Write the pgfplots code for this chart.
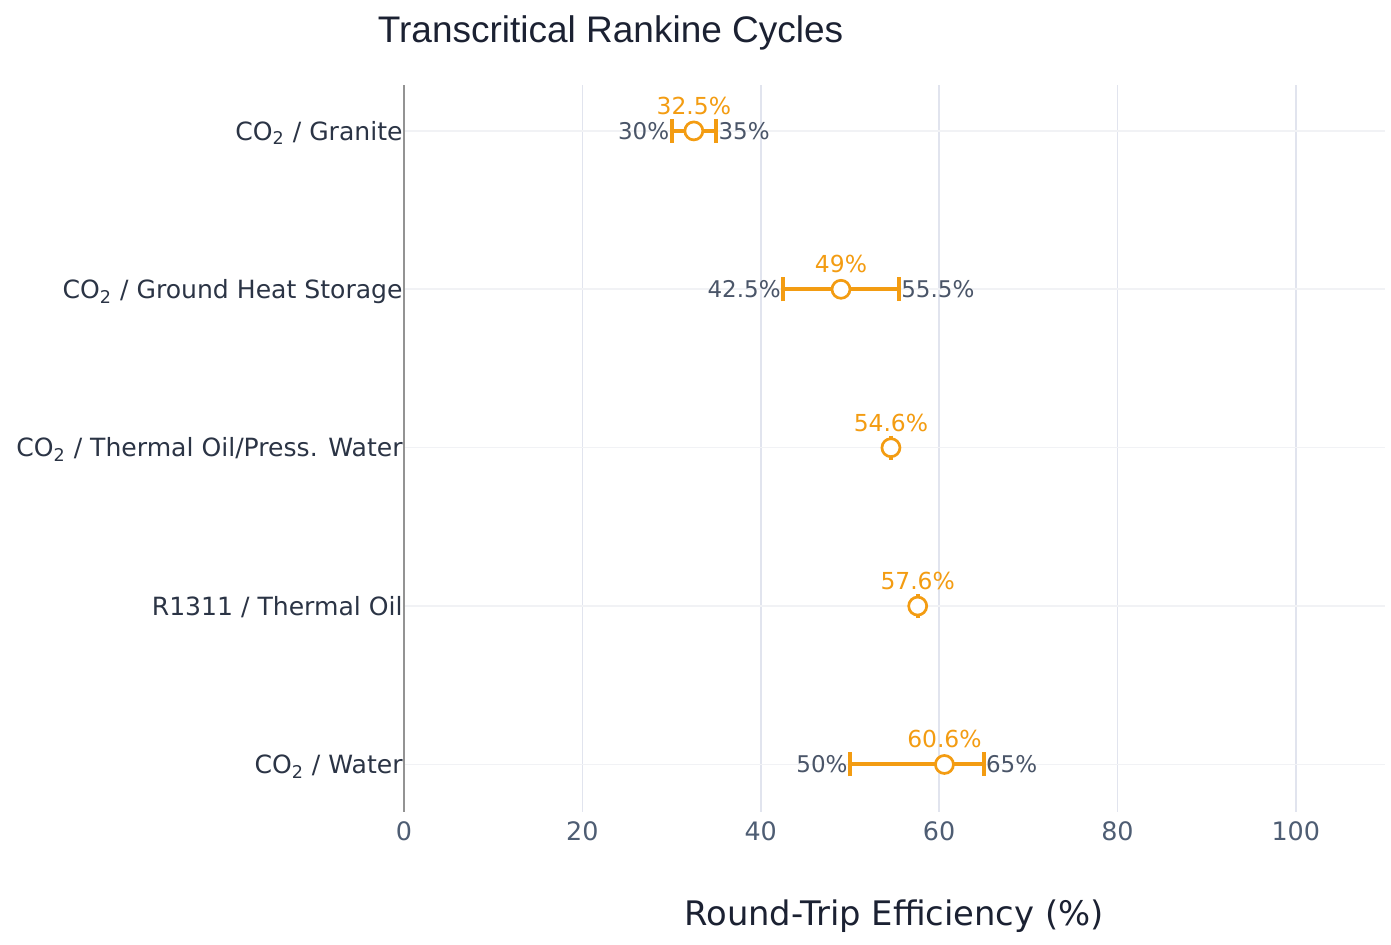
\documentclass[border=0pt]{standalone}
\usepackage{pgfplots}
\pgfplotsset{compat=1.18}
\usepackage{fontspec}
\setmainfont{DejaVu Sans}
\newfontfamily\titlefont{Liberation Sans}
\definecolor{orng}{HTML}{F39C12}
\definecolor{titlec}{HTML}{1B2132}
\definecolor{catc}{HTML}{2B3445}
\definecolor{tickc}{HTML}{4E5D73}
\definecolor{lowc}{HTML}{4A5568}
\definecolor{vgrid}{HTML}{E1E4EE}
\definecolor{hgrid}{HTML}{F1F2F5}
\begin{document}
\begin{tikzpicture}
\useasboundingbox (0,0) rectangle (695.5pt,472.5pt);
\begin{axis}[
  at={(202pt,66.5pt)}, anchor=south west,
  scale only axis, width=490.5pt, height=363.5pt,
  xmin=0, xmax=110, ymin=-0.3, ymax=4.29,
  xtick={0,20,40,60,80,100},
  ytick={0,1,2,3,4},
  yticklabels={CO\textsubscript{2} / Water, R1311 / Thermal Oil, CO\textsubscript{2} / Thermal Oil/Press. Water, CO\textsubscript{2} / Ground Heat Storage, CO\textsubscript{2} / Granite},
  major tick length=0pt,
  axis y line*=left, axis x line*=bottom,
  x axis line style={draw=none},
  y axis line style={draw=gray!85, line width=0.75pt},
  xmajorgrids, ymajorgrids,
  x grid style={vgrid, line width=0.8pt},
  y grid style={hgrid, line width=0.8pt},
  xticklabel style={font=\fontsize{12.7}{15}\selectfont, text=tickc, anchor=base, yshift=-14.5pt},
  yticklabel style={font=\fontsize{12.55}{15}\selectfont, text=catc, anchor=base east, inner sep=0pt, xshift=-0.5pt, yshift=-4.6pt},
  xticklabel={\pgfmathprintnumber[assume math mode=true]{\tick}},
  clip=false,
]
% error ranges
\addplot[only marks, mark=none, draw=none,
  error bars/.cd, x dir=both, x explicit,
  error bar style={orng, line width=2pt},
  error mark options={orng, line width=2pt, mark size=6pt, rotate=90}]
coordinates {
  (32.5,4) += (2.5,0) -= (2.5,0)
  (49,3) += (6.5,0) -= (6.5,0)
  (54.6,2) += (0.001,0) -= (0.001,0)
  (57.6,1) += (0.001,0) -= (0.001,0)
  (60.6,0) += (4.4,0) -= (10.6,0)
};
% central markers
\addplot[only marks, mark=*, mark size=4.5pt,
  mark options={fill=white, draw=orng, line width=1.35pt}]
coordinates {(32.5,4) (49,3) (54.6,2) (57.6,1) (60.6,0)};
% value labels
\addplot[only marks, mark=none, nodes near coords, point meta=explicit symbolic,
  nodes near coords style={text=orng, font=\fontsize{11.7}{14}\selectfont, anchor=base, inner sep=0pt, yshift=8.3pt}]
coordinates {(32.5,4)[32.5\%] (49,3)[49\%] (54.6,2)[54.6\%] (57.6,1)[57.6\%] (60.6,0)[60.6\%]};
% low labels
\addplot[only marks, mark=none, nodes near coords, point meta=explicit symbolic,
  nodes near coords style={text=lowc, font=\fontsize{11.5}{14}\selectfont, anchor=base east, inner sep=0pt, xshift=-1.0pt, yshift=-4.2pt}]
coordinates {(30,4)[30\%] (42.5,3)[42.5\%] (50,0)[50\%]};
% high labels
\addplot[only marks, mark=none, nodes near coords, point meta=explicit symbolic,
  nodes near coords style={text=lowc, font=\fontsize{11.5}{14}\selectfont, anchor=base west, inner sep=0pt, xshift=1.0pt, yshift=-4.2pt}]
coordinates {(35,4)[35\%] (55.5,3)[55.5\%] (65,0)[65\%]};
\end{axis}
\node[anchor=base, text=titlec, font=\titlefont\fontsize{18.5}{22}\selectfont, inner sep=0pt] at (305.3pt,451pt) {Transcritical Rankine Cycles};
\node[anchor=base, text=titlec, font=\fontsize{16.9}{20}\selectfont, inner sep=0pt] at (447pt,9.5pt) {Round-Trip Efficiency (\%)};
\end{tikzpicture}
\end{document}
